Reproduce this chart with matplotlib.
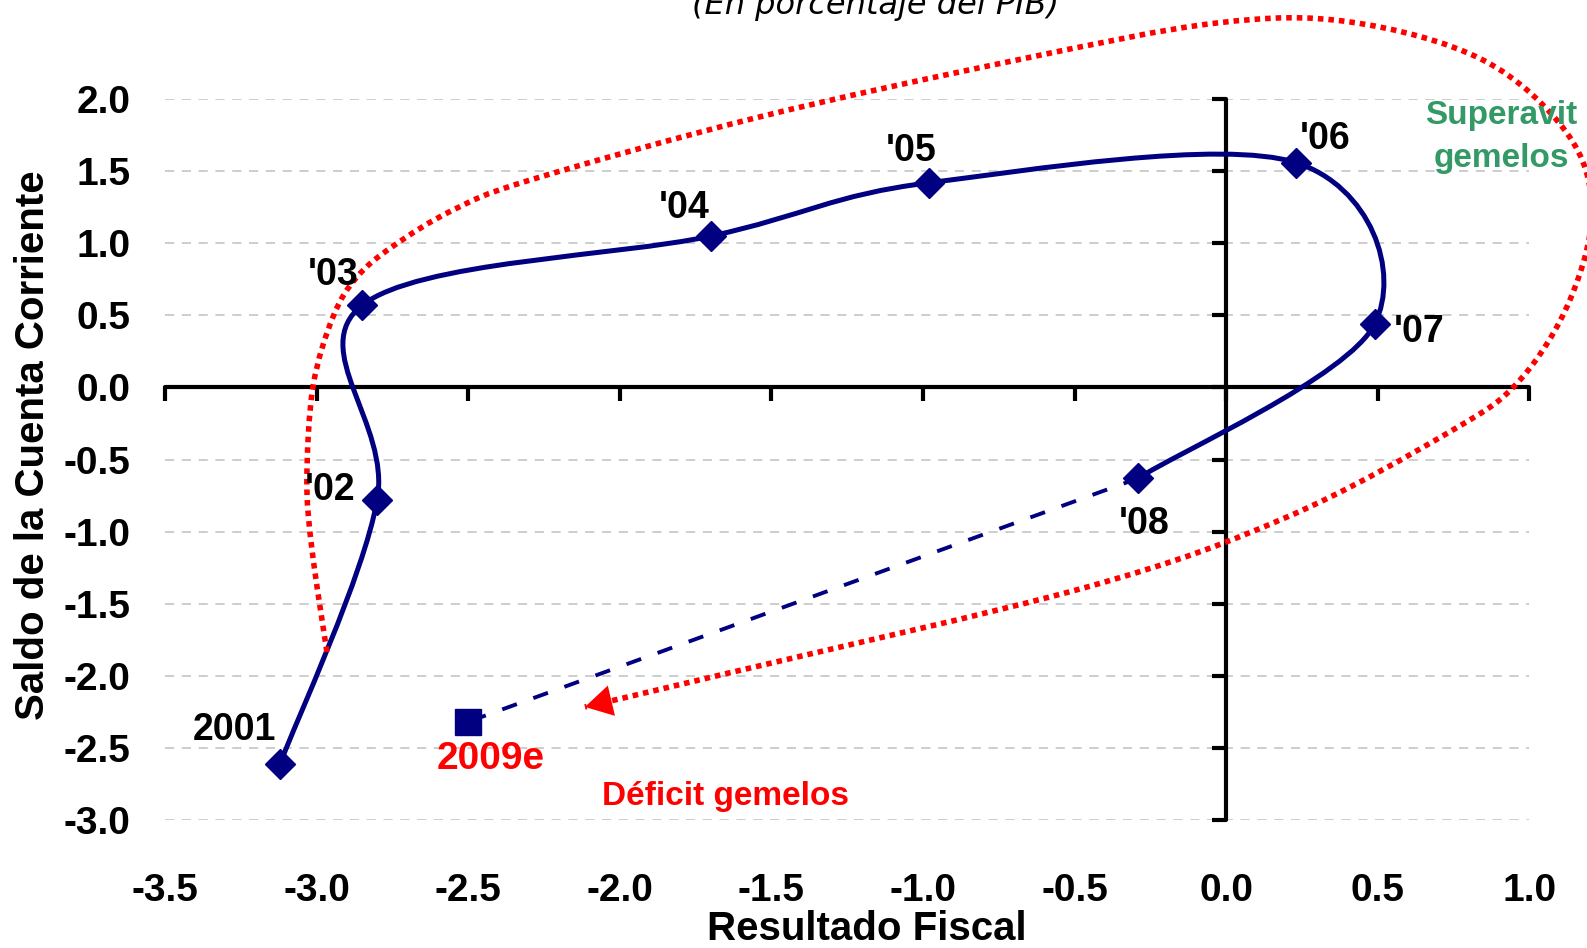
import numpy as np
import matplotlib
matplotlib.use("Agg")
import matplotlib.pyplot as plt
from matplotlib.path import Path
from matplotlib.patches import PathPatch

plt.rcParams['font.family'] = ['Liberation Sans', 'DejaVu Sans']

# twin balances, % of GDP
years = ['2001', "'02", "'03", "'04", "'05", "'06", "'07", "'08"]
fiscal = [-3.12, -2.80, -2.85, -1.70, -0.98, 0.23, 0.49, -0.29]
current = [-2.61, -0.78, 0.57, 1.05, 1.42, 1.56, 0.44, -0.63]

est_label = '2009e'
est_fiscal = -2.50
est_current = -2.32

xticks = [-3.5, -3.0, -2.5, -2.0, -1.5, -1.0, -0.5, 0.0, 0.5, 1.0]
yticks = [-3.0, -2.5, -2.0, -1.5, -1.0, -0.5, 0.0, 0.5, 1.0, 1.5, 2.0]

# hand drawn red loop around the path (annotation shape)
ring_x = [-2.966, -3.015, -3.032, -3.012, -2.946, -2.867, -2.748, -2.550, -2.296,
          -1.541, -0.690, -0.030, 0.408, 0.847, 1.124, 1.206, 1.134, 0.969,
          0.748, 0.201, -0.459, -1.640, -2.115]
ring_y = [-1.836, -1.128, -0.643, 0.003, 0.489, 0.766, 0.980, 1.231, 1.439,
          1.876, 2.272, 2.529, 2.536, 2.272, 1.765, 1.231, 0.607, 0.051,
          -0.295, -0.899, -1.385, -1.981, -2.217]

# label offsets in points (layout only)
offsets = {'2001': (-33, 24), "'02": (-34, 7), "'03": (-21, 22), "'04": (-19, 20),
           "'05": (-13, 23), "'06": (21, 17), "'07": (32, -6), "'08": (4, -33)}

navy = '#000080'
red = '#ff0000'
green = '#339966'


def smooth_path(xs, ys):
    # excel-like smoothed line: cubic bezier through every point
    pts = np.column_stack([xs, ys])
    n = len(pts)
    verts = [pts[0]]
    codes = [Path.MOVETO]
    for i in range(n - 1):
        p0 = pts[max(i - 1, 0)]
        p1 = pts[i]
        p2 = pts[i + 1]
        p3 = pts[min(i + 2, n - 1)]
        verts += [p1 + (p2 - p0) / 6, p2 - (p3 - p1) / 6, p2]
        codes += [Path.CURVE4] * 3
    return Path(verts, codes)


fig = plt.figure(figsize=(15.87, 9.48), dpi=100)
rect = [0.10397, 0.13523, 0.85967, 0.76013]
ax = fig.add_axes(rect)
ax.set_xlim(-3.5, 1.0)
ax.set_ylim(-3.0, 2.0)
ax.set_xticks(xticks)
ax.set_yticks(yticks)
ax.tick_params(labelbottom=False, labelleft=False, direction='out',
               length=10, width=3, color='black')
ax.spines['left'].set_position(('data', 0))
ax.spines['bottom'].set_position(('data', 0))
ax.spines['top'].set_visible(False)
ax.spines['right'].set_visible(False)
for s in ['left', 'bottom']:
    ax.spines[s].set_linewidth(3)
    ax.spines[s].set_capstyle('round')
ax.set_axisbelow(True)
ax.yaxis.grid(True, color='#c0c0c0', linestyle=(0, (6, 5)), linewidth=1.1)
ax.patch.set_visible(False)

# second axes only to put tick labels at the low end
ax2 = fig.add_axes(rect)
ax2.set_xlim(-3.5, 1.0)
ax2.set_ylim(-3.0, 2.0)
ax2.set_xticks(xticks)
ax2.set_yticks(yticks)
ax2.set_xticklabels([f'{v:.1f}' for v in xticks])
ax2.set_yticklabels([f'{v:.1f}' for v in yticks])
ax2.tick_params(axis='x', length=0, pad=38, labelsize=28)
ax2.tick_params(axis='y', length=0, pad=25, labelsize=28)
for lab in ax2.get_xticklabels() + ax2.get_yticklabels():
    lab.set_fontweight('bold')
for s in ax2.spines.values():
    s.set_visible(False)
ax2.patch.set_visible(False)

# main smoothed path 2001-2008
ax.add_patch(PathPatch(smooth_path(fiscal, current), fill=False, edgecolor=navy,
                       linewidth=3.6, joinstyle='round', capstyle='round', zorder=4))
ax.plot(fiscal, current, linestyle='none', marker='D', markersize=15,
        color=navy, zorder=6)

# dashed projection to 2009e
ax.plot([fiscal[-1], est_fiscal], [current[-1], est_current], color=navy,
        linewidth=2.8, linestyle=(0, (4, 4.5)), zorder=4)
ax.plot([est_fiscal], [est_current], linestyle='none', marker='s',
        markersize=18.5, color=navy, zorder=6)

# red dotted loop with arrow
ax.add_patch(PathPatch(smooth_path(ring_x, ring_y), fill=False, edgecolor=red,
                       linewidth=4.0, linestyle=(0, (1, 0.9)), capstyle='butt',
                       clip_on=False, zorder=5))
ax.annotate('', xy=(ring_x[-1], ring_y[-1]), xytext=(ring_x[-2], ring_y[-2]),
            arrowprops=dict(arrowstyle='-|>,head_length=0.7,head_width=0.4',
                            color=red, lw=0, mutation_scale=28,
                            shrinkA=0, shrinkB=0),
            annotation_clip=False, zorder=5)

for name, x, y in zip(years, fiscal, current):
    ax.annotate(name, (x, y), xytext=offsets[name], textcoords='offset points',
                ha='center', va='center', fontsize=27, fontweight='bold',
                color='black', zorder=7)
ax.annotate(est_label, (est_fiscal, est_current), xytext=(16.5, -27),
            textcoords='offset points', ha='center', va='center', fontsize=28,
            fontweight='bold', color=red, zorder=7)

fig.text(1501 / 1587, 1 - 137 / 948, 'Superavit\ngemelos', ha='center',
         va='center', fontsize=24, fontweight='bold', color=green,
         linespacing=1.5)
fig.text(725 / 1587, 1 - 797 / 948, 'Déficit gemelos', ha='center', va='center',
         fontsize=24, fontweight='bold', color=red)

fig.text(867 / 1587, 1 - 929 / 948, 'Resultado Fiscal', ha='center', va='center',
         fontsize=29, fontweight='bold')
fig.text(33.5 / 1587, 1 - 445 / 948, 'Saldo de la Cuenta Corriente', ha='center',
         va='center', rotation=90, fontsize=29, fontweight='bold')
fig.text(876 / 1587, 1 - 14 / 948, '(En porcentaje del PIB)', ha='center',
         va='baseline', fontsize=23, style='italic', family='DejaVu Sans')

fig.savefig('out.png', dpi=100)
